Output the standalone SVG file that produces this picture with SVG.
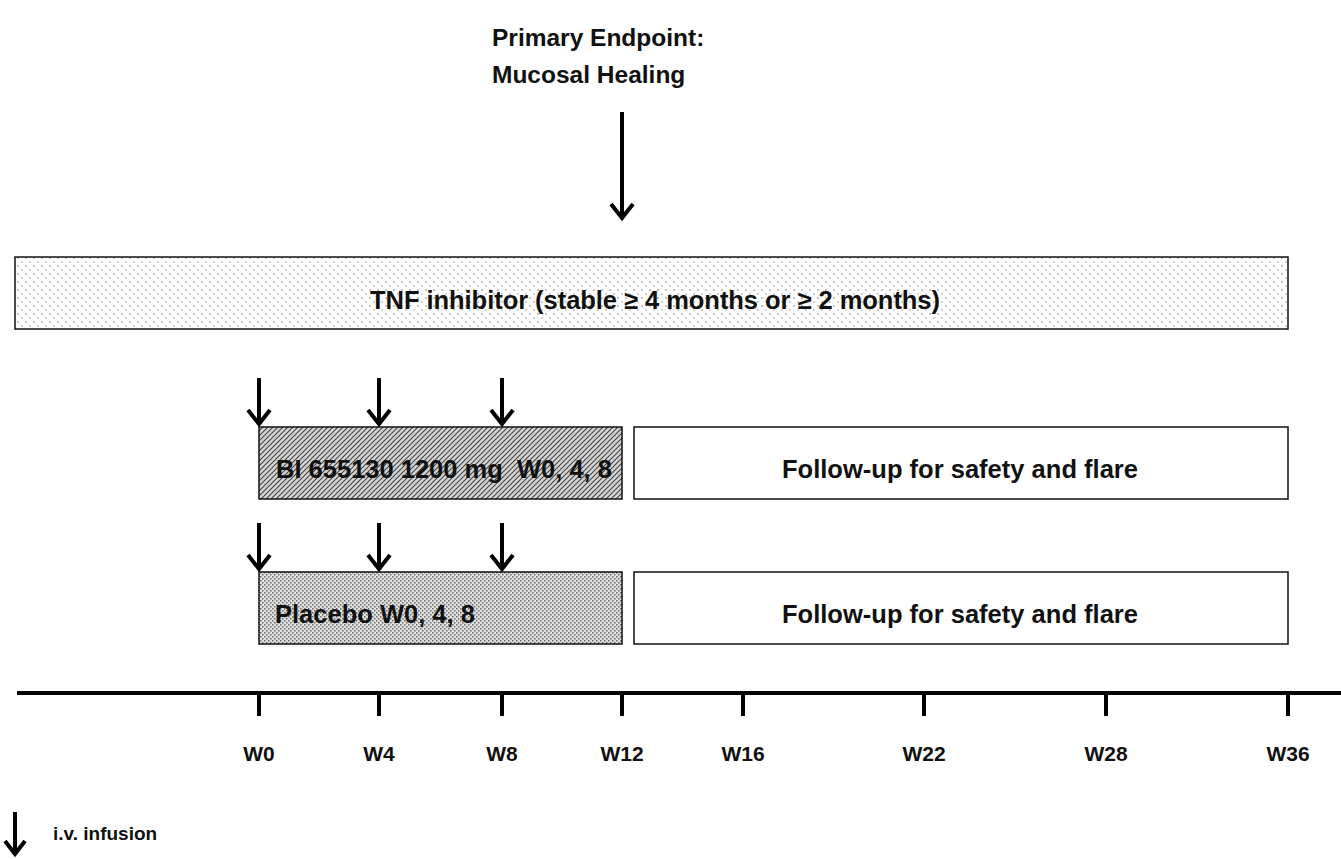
<svg xmlns="http://www.w3.org/2000/svg" width="1341" height="859" viewBox="0 0 1341 859">
<style>
.t{font-family:"Liberation Sans",Arial,sans-serif;font-weight:bold;fill:#111}
.box{stroke:#111;stroke-width:1.5}
.ax{stroke:#000;stroke-width:4;fill:none}
.sh{stroke:#000;stroke-width:4;fill:none}
.hd{stroke:#000;stroke-width:4;fill:none;stroke-linejoin:miter}
</style>
<defs>
<pattern id="sparse" width="8" height="8" patternUnits="userSpaceOnUse">
<rect width="8" height="8" fill="#fff"/>
<circle cx="2" cy="2" r="0.8" fill="#777"/>
<circle cx="6" cy="6" r="0.8" fill="#999"/>
</pattern>
<pattern id="hatch" width="5" height="5" patternUnits="userSpaceOnUse">
<rect width="5" height="5" fill="#d4d4d4"/>
<path d="M0,5 L5,0 M-1,1 L1,-1 M4,6 L6,4" stroke="#444" stroke-width="1.1"/>
</pattern>
<pattern id="dense" width="4" height="4" patternUnits="userSpaceOnUse">
<rect width="4" height="4" fill="#e0e0e0"/>
<rect x="0" y="0" width="1.5" height="1.5" fill="#6a6a6a"/>
<rect x="2" y="2" width="1.5" height="1.5" fill="#6a6a6a"/>
</pattern>
</defs>

<g id="title">
<text class="t" x="492" y="46" font-size="24.5">Primary Endpoint:</text>
<text class="t" x="492" y="83" font-size="24.5">Mucosal Healing</text>
</g>

<g id="tnf">
<rect class="box" x="15" y="257" width="1273" height="72" fill="url(#sparse)"/>
<text class="t" x="370" y="309" font-size="25.5" textLength="570" lengthAdjust="spacing">TNF inhibitor (stable ≥ 4 months  or ≥ 2 months)</text>
</g>

<g id="bi">
<rect class="box" x="259" y="427" width="363" height="72" fill="url(#hatch)"/>
<text class="t" x="276" y="478" font-size="25.5" xml:space="preserve">BI 655130 1200 mg  W0, 4, 8</text>
</g>
<g id="followup1">
<rect class="box" x="634" y="427" width="654" height="72" fill="#fff"/>
<text class="t" x="782" y="478" font-size="25.5" textLength="356" lengthAdjust="spacing">Follow-up  for safety and flare</text>
</g>

<g id="placebo">
<rect class="box" x="259" y="572" width="363" height="72" fill="url(#dense)"/>
<text class="t" x="275" y="623" font-size="25.5">Placebo W0, 4, 8</text>
</g>
<g id="followup2">
<rect class="box" x="634" y="572" width="654" height="72" fill="#fff"/>
<text class="t" x="782" y="623" font-size="25.5" textLength="356" lengthAdjust="spacing">Follow-up  for safety and flare</text>
</g>

<g id="axis">
<line class="ax" x1="17" y1="693" x2="1341" y2="693"/>
<path class="ax" d="M259,693V716 M379,693V716 M502,693V716 M622,693V716 M743,693V716 M924,693V716 M1106,693V716 M1288,693V716"/>
<g class="t" font-size="21" text-anchor="middle">
<text x="259" y="761">W0</text>
<text x="379" y="761">W4</text>
<text x="502" y="761">W8</text>
<text x="622" y="761">W12</text>
<text x="743" y="761">W16</text>
<text x="924" y="761">W22</text>
<text x="1106" y="761">W28</text>
<text x="1288" y="761">W36</text>
</g>
</g>

<g id="connectors">
<line class="sh" x1="622" y1="112" x2="622" y2="218"/>
<polyline class="hd" points="611,204 622,218 633,204"/>
<g>
<line class="sh" x1="259" y1="378" x2="259" y2="424"/>
<polyline class="hd" points="248,410 259,424 270,410"/>
<line class="sh" x1="379" y1="378" x2="379" y2="424"/>
<polyline class="hd" points="368,410 379,424 390,410"/>
<line class="sh" x1="502" y1="378" x2="502" y2="424"/>
<polyline class="hd" points="491,410 502,424 513,410"/>
</g>
<g>
<line class="sh" x1="259" y1="523" x2="259" y2="569"/>
<polyline class="hd" points="248,555 259,569 270,555"/>
<line class="sh" x1="379" y1="523" x2="379" y2="569"/>
<polyline class="hd" points="368,555 379,569 390,555"/>
<line class="sh" x1="502" y1="523" x2="502" y2="569"/>
<polyline class="hd" points="491,555 502,569 513,555"/>
</g>
</g>

<g id="legend">
<line class="sh" x1="15" y1="812" x2="15" y2="854"/>
<polyline class="hd" points="5,841 15,854 25,841"/>
<text class="t" x="53" y="840" font-size="19">i.v. infusion</text>
</g>
</svg>
